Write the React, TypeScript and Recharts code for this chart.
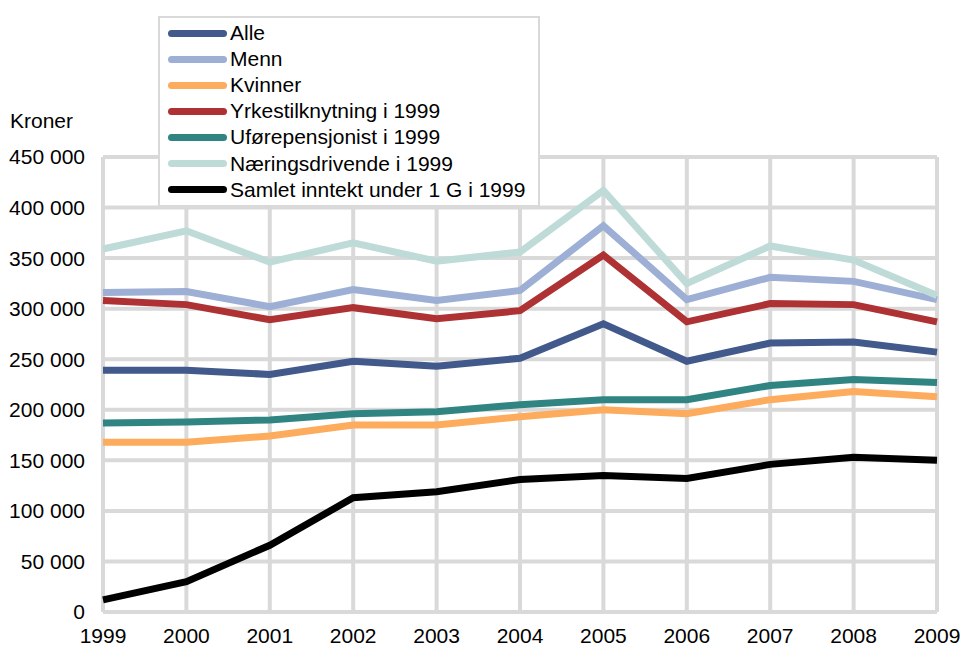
import React from 'react';
import { LineChart, Line, XAxis, YAxis, CartesianGrid, Legend } from 'recharts';

const years = ['1999', '2000', '2001', '2002', '2003', '2004', '2005', '2006', '2007', '2008', '2009'];

const alle = [239000, 239000, 235000, 248000, 243000, 251000, 285000, 248000, 266000, 267000, 257000];
const menn = [316000, 317000, 302000, 319000, 308000, 318000, 382000, 309000, 331000, 327000, 309000];
const kvinner = [168000, 168000, 174000, 185000, 185000, 193000, 200000, 196000, 210000, 218000, 213000];
const yrke = [308000, 304000, 289000, 301000, 290000, 298000, 353000, 287000, 305000, 304000, 287000];
const ufor = [187000, 188000, 190000, 196000, 198000, 205000, 210000, 210000, 224000, 230000, 227000];
const naering = [359000, 377000, 346000, 365000, 347000, 356000, 417000, 325000, 362000, 348000, 313000];
const samlet = [12000, 30000, 66000, 113000, 119000, 131000, 135000, 132000, 146000, 153000, 150000];

const yTicks = [0, 50000, 100000, 150000, 200000, 250000, 300000, 350000, 400000, 450000];

const series = [
  { key: 'alle', name: 'Alle', color: '#41598b', values: alle },
  { key: 'menn', name: 'Menn', color: '#9dafd5', values: menn },
  { key: 'kvinner', name: 'Kvinner', color: '#fdab5c', values: kvinner },
  { key: 'yrke', name: 'Yrkestilknytning i 1999', color: '#ae3233', values: yrke },
  { key: 'ufor', name: 'Uførepensjonist i 1999', color: '#308583', values: ufor },
  { key: 'naering', name: 'Næringsdrivende i 1999', color: '#bfdbd8', values: naering },
  { key: 'samlet', name: 'Samlet inntekt under 1 G i 1999', color: '#000000', values: samlet },
];

const data = years.map((year, i) => {
  const row: Record<string, string | number> = { year };
  series.forEach((s) => {
    row[s.key] = s.values[i];
  });
  return row;
});

const FONT = '"Liberation Sans", Arial, sans-serif';

const formatKr = (v: number) => (v === 0 ? '0' : v.toLocaleString('en-US').replace(/,/g, ' '));

const LegendBox = () => (
  <div
    style={{
      background: '#fff',
      border: '2px solid #d9d9d9',
      width: 382,
      height: 191,
      boxSizing: 'border-box',
      paddingTop: 2,
      fontFamily: FONT,
      fontSize: 21,
      color: '#000',
    }}
  >
    {series.map((s) => (
      <div key={s.key} style={{ display: 'flex', alignItems: 'center', height: 26.1 }}>
        <div
          style={{
            width: 59,
            height: 7,
            borderRadius: 4,
            background: s.color,
            marginLeft: 8,
            marginRight: 3,
          }}
        />
        <span>{s.name}</span>
      </div>
    ))}
  </div>
);

export default function App() {
  return (
    <div style={{ position: 'absolute', left: 0, top: 0, width: 960, height: 646, background: '#fff' }}>
      <div
        style={{
          position: 'absolute',
          left: 10,
          top: 109,
          fontFamily: FONT,
          fontSize: 21,
          color: '#000',
        }}
      >
        Kroner
      </div>
      <LineChart width={960} height={646} data={data} margin={{ top: 157, right: 23, bottom: 4, left: 0 }}>
        <CartesianGrid stroke="#d9d9d9" strokeWidth={4} />
        <XAxis
          dataKey="year"
          height={30}
          axisLine={false}
          tickLine={false}
          tickMargin={10}
          interval={0}
          tick={{ fontSize: 21, fill: '#000', fontFamily: FONT }}
        />
        <YAxis
          width={103}
          domain={[0, 450000]}
          ticks={yTicks}
          tickFormatter={formatKr}
          axisLine={false}
          tickLine={false}
          tickMargin={12}
          tick={{ fontSize: 21, fill: '#000', fontFamily: FONT }}
        />
        <Legend
          layout="horizontal"
          verticalAlign="middle"
          content={<LegendBox />}
          wrapperStyle={{ left: 158, top: 16, width: 382, height: 191 }}
        />
        {series.map((s) => (
          <Line
            key={s.key}
            type="linear"
            dataKey={s.key}
            name={s.name}
            stroke={s.color}
            strokeWidth={7}
            dot={false}
            activeDot={false}
            isAnimationActive={false}
          />
        ))}
      </LineChart>
    </div>
  );
}
